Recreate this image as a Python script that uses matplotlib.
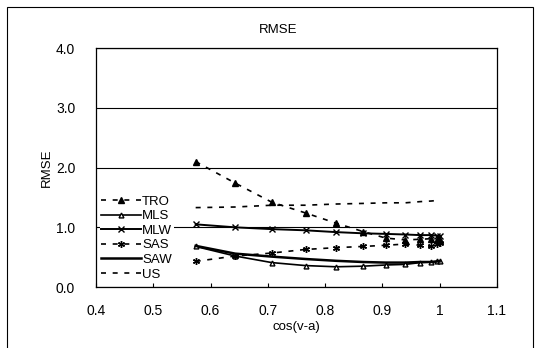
# RMSE mot cos(v-a) for seks metoder
import matplotlib.pyplot as plt
from matplotlib.patches import Rectangle

plt.rcParams['font.family'] = ['Liberation Sans', 'DejaVu Sans']

# Data lest av figuren
cosv = [0.574, 0.643, 0.707, 0.766, 0.819, 0.866, 0.906, 0.940, 0.966, 0.985, 0.996, 1.0]
tro = [2.10, 1.74, 1.42, 1.24, 1.07, 0.93, 0.82, 0.79, 0.80, 0.81, 0.79, 0.78]
mls = [0.68, 0.52, 0.41, 0.36, 0.34, 0.35, 0.37, 0.38, 0.41, 0.42, 0.43, 0.44]
mlw = [1.05, 1.00, 0.97, 0.95, 0.92, 0.90, 0.89, 0.88, 0.87, 0.87, 0.86, 0.86]
sas = [0.43, 0.52, 0.57, 0.63, 0.66, 0.68, 0.70, 0.72, 0.70, 0.68, 0.72, 0.74]
saw = [0.69, 0.56, 0.51, 0.47, 0.44, 0.42, 0.41, 0.41, 0.42, 0.42, 0.43, 0.43]
us = [1.33, 1.34, 1.37, 1.37, 1.39, 1.40, 1.41, 1.41, 1.43, 1.44, 1.45, 1.45]

xticks = [0.4, 0.5, 0.6, 0.7, 0.8, 0.9, 1.0, 1.1]
xtick_labels = ["0.4", "0.5", "0.6", "0.7", "0.8", "0.9", "1", "1.1"]
yticks = [0.0, 1.0, 2.0, 3.0, 4.0]

fig = plt.figure(figsize=(5.41, 3.48), dpi=100)
ax = fig.add_axes([0.1775, 0.175, 0.741, 0.687])

# Ytre ramme rundt hele diagrammet
fig.patches.append(Rectangle((7 / 541, -0.1), 526 / 541, 1 - 7 / 348 + 0.1,
                             transform=fig.transFigure, fill=False,
                             edgecolor='black', linewidth=0.8))

ax.plot(cosv, tro, color='black', linestyle=(0, (3, 4)), linewidth=1.2,
        marker='^', markersize=4, label='TRO')
ax.plot(cosv, mls, color='black', linestyle='-', linewidth=1.2,
        marker='^', markersize=3.5, markerfacecolor='white', label='MLS')
ax.plot(cosv, mlw, color='black', linestyle='-', linewidth=1.4,
        marker='x', markersize=4.5, label='MLW')
ax.plot(cosv, sas, color='black', linestyle=(0, (3, 4)), linewidth=1.2,
        marker=(6, 2, 0), markersize=5, label='SAS')
ax.plot(cosv, saw, color='black', linestyle='-', linewidth=1.8, label='SAW')
ax.plot(cosv, us, color='black', linestyle=(0, (3, 4)), linewidth=1.2, label='US')

ax.set_xlim(0.4, 1.1)
ax.set_ylim(0, 4)
ax.set_xticks(xticks)
ax.set_xticklabels(xtick_labels)
ax.set_yticks(yticks)
ax.set_yticklabels([f"{v:.1f}" for v in yticks])
ax.tick_params(axis='x', direction='in', length=3, pad=12, labelsize=10)
ax.tick_params(axis='y', length=0, pad=15, labelsize=10)
ax.grid(axis='y', color='black', linewidth=0.8)
ax.set_axisbelow(True)
for s in ax.spines.values():
    s.set_linewidth(0.9)

ax.set_xlabel("cos(v-a)", fontsize=9.5, labelpad=2)
ax.set_ylabel("RMSE", fontsize=9.5, labelpad=2)
fig.text(278 / 541, 1 - 30 / 348, "RMSE", ha='center', va='center', fontsize=9.5)

leg = ax.legend(loc='upper left', bbox_to_anchor=(100 / 541, 1 - 194 / 348),
                bbox_transform=fig.transFigure, frameon=True, fontsize=9.5,
                handlelength=3.0, handletextpad=0.1, labelspacing=0.18,
                borderpad=0.1, borderaxespad=0)
leg.get_frame().set_edgecolor('none')
leg.get_frame().set_facecolor('white')
leg.get_frame().set_alpha(1)

fig.savefig("out.png", dpi=100)
